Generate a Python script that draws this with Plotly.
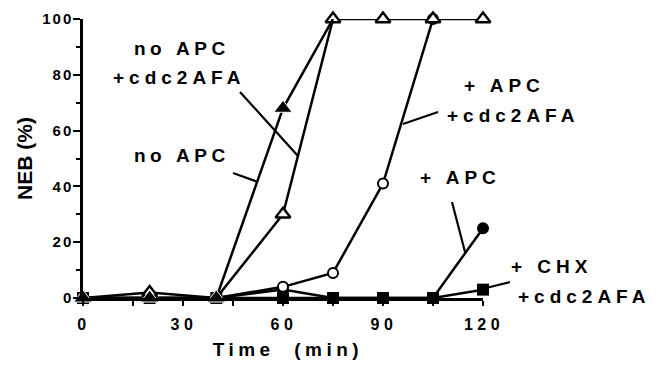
import plotly.graph_objects as go

# ---- data ----
time_min = [0, 20, 40, 60, 75, 90, 105, 120]
no_apc = [0, 2, 0, 30, 100, 100, 100, 100]                 # open triangles
no_apc_cdc2 = [0, 0, 0, 68, 100]                           # filled triangles
apc_cdc2 = [0, 0, 0, 4, 9, 41, 100]                        # open circles
apc = [0, 0, 0, 3, 0, 0, 0, 25]                            # filled circles
chx_cdc2 = [0, 0, 0, 0, 0, 0, 0, 3]                        # filled squares

x_tickvals = [0, 30, 60, 90, 120]
x_ticklabels = ["0", "30", "60", "90", "120"]
y_tickvals = [0, 20, 40, 60, 80, 100]
y_ticklabels = ["0", "20", "40", "60", "80", "100"]

FONT = "Liberation Sans, Arial, Helvetica, sans-serif"
BLACK = "black"
LW = 2.5

# plot-area geometry in pixels (for annotation placement)
L, R, T, B = 83, 177, 19, 67
W, H = 660, 365
PW, PH = W - L - R, H - T - B


def pxp(px):
    return (px - L) / PW


def pyp(py):
    return (T + PH - py) / PH


def sp(text, ls):
    return f'<b><span style="letter-spacing:{ls}px">{text}</span></b>'


fig = go.Figure()

# filled circles (+ APC)
fig.add_trace(go.Scatter(
    x=time_min[:len(apc)], y=apc, mode="lines+markers",
    line=dict(color=BLACK, width=LW),
    marker=dict(symbol="circle", size=12, color=BLACK),
    cliponaxis=False, showlegend=False))

# filled squares (+ CHX + cdc2AFA)
fig.add_trace(go.Scatter(
    x=time_min[:len(chx_cdc2)], y=chx_cdc2, mode="lines+markers",
    line=dict(color=BLACK, width=LW),
    marker=dict(symbol="square", size=12, color=BLACK),
    cliponaxis=False, showlegend=False))

# open circles (+ APC + cdc2AFA)
fig.add_trace(go.Scatter(
    x=time_min[:len(apc_cdc2)], y=apc_cdc2, mode="lines+markers",
    line=dict(color=BLACK, width=LW),
    marker=dict(symbol="circle", size=10, color="white",
                line=dict(color=BLACK, width=2)),
    cliponaxis=False, showlegend=False))

# open triangles (no APC)
fig.add_trace(go.Scatter(
    x=time_min[:len(no_apc)], y=no_apc, mode="lines+markers",
    line=dict(color=BLACK, width=LW),
    marker=dict(symbol="triangle-up", size=13, color="white",
                line=dict(color=BLACK, width=2.4)),
    cliponaxis=False, showlegend=False))

# filled triangles (no APC + cdc2AFA); last marker hidden beneath open triangle
tri_sizes = [16] * (len(no_apc_cdc2) - 1) + [0]
fig.add_trace(go.Scatter(
    x=time_min[:len(no_apc_cdc2)], y=no_apc_cdc2, mode="lines+markers",
    line=dict(color=BLACK, width=LW),
    marker=dict(symbol="triangle-up", size=tri_sizes, color=BLACK, opacity=1),
    cliponaxis=False, showlegend=False))

# labels: (text, ink centre x, ink centre y) in pixels
labels = [
    ("no APC", 182, 48),
    ("+cdc2AFA", 178, 77),
    ("no APC", 182, 155),
    ("+ APC", 503, 85),
    ("+cdc2AFA", 512, 116),
    ("+ APC", 459, 178),
    ("+ CHX", 551, 266),
    ("+cdc2AFA", 583, 296),
]
for txt, cx, cy in labels:
    if txt.startswith("no"):
        shown, ls, dx = txt.replace(" ", "\u00a0"), 4.5, 0
    else:
        shown, ls, dx = txt, 5, 1
    fig.add_annotation(
        x=pxp(cx + dx), y=pyp(cy), xref="paper", yref="paper",
        text=sp(shown, ls),
        showarrow=False, xanchor="center", yanchor="middle",
        font=dict(family=FONT, size=19, color=BLACK))

# leader lines (pixel endpoints)
leaders = [
    ((240, 92), (298, 156)),
    ((233, 173), (258, 182)),
    ((438, 112), (403, 124)),
    ((452, 202), (465, 252)),
    ((510, 282), (486, 288)),
]
for (x0, y0), (x1, y1) in leaders:
    fig.add_shape(type="line", xref="paper", yref="paper",
                  x0=pxp(x0), y0=pyp(y0), x1=pxp(x1), y1=pyp(y1),
                  line=dict(color=BLACK, width=2.2))

fig.update_layout(
    width=W, height=H,
    margin=dict(l=L, r=R, t=T, b=B),
    plot_bgcolor="white", paper_bgcolor="white",
    font=dict(family=FONT, color=BLACK),
)

fig.update_xaxes(
    range=[0, 120], showgrid=False, zeroline=False, automargin=False,
    showline=True, linecolor=BLACK, linewidth=LW,
    ticks="outside", ticklen=5, tickwidth=2, tickcolor=BLACK,
    tickvals=x_tickvals, ticktext=[sp(t, 4.5) for t in x_ticklabels],
    tickfont=dict(family=FONT, size=16, color=BLACK),
    ticklabelstandoff=5, ticklabelshift=1,
    minor=dict(dtick=15, tick0=0, ticks="outside", ticklen=5, tickwidth=2, tickcolor=BLACK),
    title=dict(text=sp("\u00a0Time\u00a0\u00a0(min)", 4.5),
               font=dict(family=FONT, size=19, color=BLACK),
               standoff=11),
)

fig.update_yaxes(
    range=[0, 100], showgrid=False, zeroline=False, automargin=False,
    showline=True, linecolor=BLACK, linewidth=LW,
    ticks="outside", ticklen=7, tickwidth=2, tickcolor=BLACK,
    tickvals=y_tickvals, ticktext=[sp(t, 2) for t in y_ticklabels],
    tickfont=dict(family=FONT, size=15, color=BLACK),
    ticklabelstandoff=-3,
    minor=dict(dtick=10, tick0=0, ticks="outside", ticklen=4, tickwidth=2, tickcolor=BLACK),
    title=dict(text="<b>NEB (%)</b>",
               font=dict(family=FONT, size=21, color=BLACK),
               standoff=4),
)

fig.write_html("out.html", config={"displayModeBar": False},
               post_script="document.body.style.margin='0';")
